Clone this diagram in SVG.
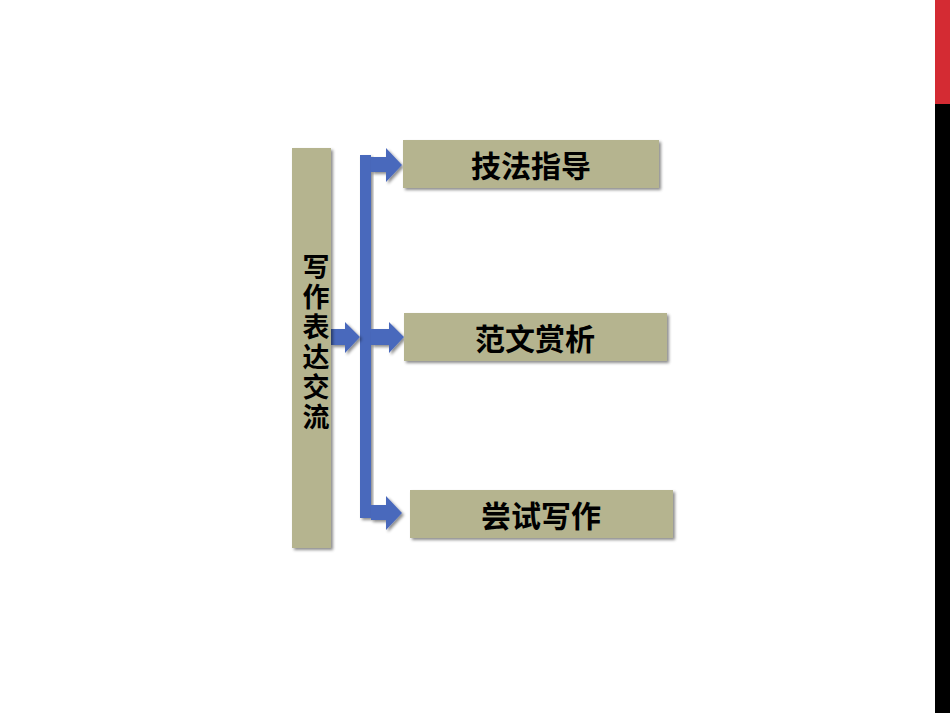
<svg xmlns="http://www.w3.org/2000/svg" width="950" height="713" viewBox="0 0 950 713">
<defs>
<filter id="sh" x="-10%" y="-10%" width="130%" height="130%">
<feDropShadow dx="2" dy="2" stdDeviation="1.5" flood-color="#000" flood-opacity="0.45"/>
</filter>
<style>
.box{fill:#B5B48F;filter:url(#sh);}
.lbl{font-family:"Noto Sans CJK SC","Liberation Sans",sans-serif;font-weight:bold;font-size:30px;fill:#000;text-anchor:middle;}
.vl{font-family:"Noto Sans CJK SC","Liberation Sans",sans-serif;font-weight:bold;font-size:27px;fill:#000;text-anchor:middle;}
.blue{fill:#4A69BC;filter:url(#sh);}
</style>
</defs>
<rect x="0" y="0" width="950" height="713" fill="#FFFFFF"/>
<rect x="935" y="0" width="15" height="104" fill="#D42B33"/>
<rect x="935" y="104" width="15" height="609" fill="#000000"/>

<g id="connectors">
<rect class="blue" x="360" y="155" width="11" height="363"/>
<path class="blue" d="M371,157 H386 V148 L402,165 L386,182 V172 H371 Z"/>
<path class="blue" d="M331,329 H345 V322 L360,337 L345,353 V345 H331 Z"/>
<path class="blue" d="M371,329 H389 V322 L404,337 L389,353 V345 H371 Z"/>
<path class="blue" d="M371,505 H386 V496 L402,513 L386,530 V520 H371 Z"/>
</g>

<g id="node-main">
<rect class="box" x="292" y="148" width="39" height="400"/>
<text class="vl" x="316" y="277">写</text>
<text class="vl" x="316" y="307">作</text>
<text class="vl" x="316" y="337">表</text>
<text class="vl" x="316" y="367">达</text>
<text class="vl" x="316" y="397">交</text>
<text class="vl" x="316" y="427">流</text>
</g>

<g id="node-1">
<rect class="box" x="403" y="140" width="256" height="48"/>
<text class="lbl" x="531" y="177">技法指导</text>
</g>

<g id="node-2">
<rect class="box" x="404" y="313" width="263" height="48"/>
<text class="lbl" x="535" y="350">范文赏析</text>
</g>

<g id="node-3">
<rect class="box" x="410" y="490" width="263" height="48"/>
<text class="lbl" x="541" y="527">尝试写作</text>
</g>
</svg>
